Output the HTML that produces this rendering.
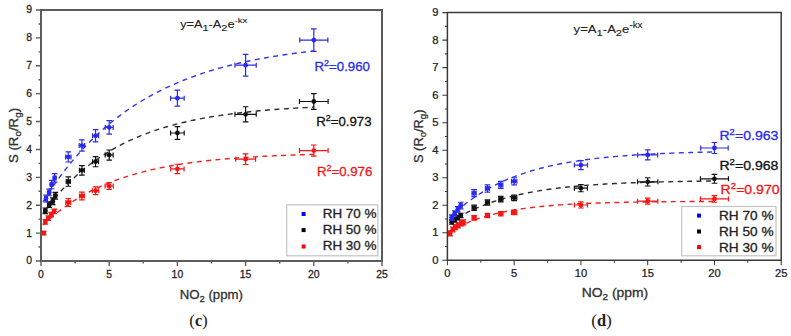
<!DOCTYPE html>
<html><head><meta charset="utf-8"><style>
html,body{margin:0;padding:0;background:#fff;}
#w{position:relative;width:791px;height:336px;overflow:hidden;background:#fff;}
svg{position:absolute;left:0;top:0;}
.tk{font-family:"Liberation Sans",sans-serif;font-size:10px;fill:#222;stroke:#222;stroke-width:0.25px;}
</style></head><body><div id="w">
<svg width="791" height="336" viewBox="0 0 791 336">
<polyline fill="none" stroke="#f52020" stroke-width="1.4" stroke-dasharray="5,4.4" points="43.05,225.02 45.32,222.88 47.60,220.80 49.87,218.78 52.15,216.82 54.42,214.93 56.70,213.08 58.97,211.29 61.25,209.56 63.52,207.87 65.80,206.23 68.07,204.65 70.35,203.11 72.62,201.61 74.90,200.16 77.17,198.75 79.45,197.38 81.73,196.06 84.00,194.77 86.28,193.52 88.55,192.30 90.83,191.13 93.10,189.98 95.38,188.88 97.65,187.80 99.93,186.75 102.20,185.74 104.48,184.76 106.75,183.80 109.03,182.87 111.30,181.97 113.58,181.10 115.85,180.25 118.13,179.43 120.40,178.63 122.68,177.86 124.95,177.11 127.23,176.38 129.51,175.67 131.78,174.98 134.06,174.31 136.33,173.67 138.61,173.04 140.88,172.43 143.16,171.83 145.43,171.26 147.71,170.70 149.98,170.16 152.26,169.64 154.53,169.13 156.81,168.63 159.08,168.15 161.36,167.68 163.63,167.23 165.91,166.79 168.18,166.37 170.46,165.95 172.73,165.55 175.01,165.16 177.29,164.78 179.56,164.42 181.84,164.06 184.11,163.72 186.39,163.38 188.66,163.05 190.94,162.74 193.21,162.43 195.49,162.13 197.76,161.84 200.04,161.56 202.31,161.29 204.59,161.03 206.86,160.77 209.14,160.52 211.41,160.28 213.69,160.05 215.96,159.82 218.24,159.60 220.52,159.38 222.79,159.18 225.07,158.97 227.34,158.78 229.62,158.59 231.89,158.40 234.17,158.22 236.44,158.05 238.72,157.88 240.99,157.72 243.27,157.56 245.54,157.41 247.82,157.26 250.09,157.11 252.37,156.97 254.64,156.83 256.92,156.70 259.19,156.57 261.47,156.45 263.74,156.32 266.02,156.21 268.30,156.09 270.57,155.98 272.85,155.87 275.12,155.77 277.40,155.67 279.67,155.57 281.95,155.47 284.22,155.38 286.50,155.29 288.77,155.20 291.05,155.12 293.32,155.04 295.60,154.96 297.87,154.88 300.15,154.80 302.42,154.73 304.70,154.66 306.97,154.59 309.25,154.52 311.52,154.46 313.80,154.40"/>
<polyline fill="none" stroke="#2e2e2e" stroke-width="1.4" stroke-dasharray="5,4.4" points="43.05,213.19 45.32,210.11 47.60,207.11 49.87,204.20 52.15,201.37 54.42,198.61 56.70,195.94 58.97,193.34 61.25,190.81 63.52,188.36 65.80,185.97 68.07,183.65 70.35,181.40 72.62,179.21 74.90,177.08 77.17,175.01 79.45,173.00 81.73,171.05 84.00,169.15 86.28,167.30 88.55,165.51 90.83,163.76 93.10,162.07 95.38,160.42 97.65,158.82 99.93,157.27 102.20,155.76 104.48,154.29 106.75,152.86 109.03,151.47 111.30,150.12 113.58,148.81 115.85,147.54 118.13,146.30 120.40,145.10 122.68,143.93 124.95,142.79 127.23,141.69 129.51,140.61 131.78,139.57 134.06,138.55 136.33,137.57 138.61,136.61 140.88,135.68 143.16,134.78 145.43,133.90 147.71,133.04 149.98,132.21 152.26,131.40 154.53,130.62 156.81,129.86 159.08,129.12 161.36,128.40 163.63,127.70 165.91,127.02 168.18,126.36 170.46,125.71 172.73,125.09 175.01,124.48 177.29,123.89 179.56,123.32 181.84,122.76 184.11,122.22 186.39,121.69 188.66,121.18 190.94,120.69 193.21,120.20 195.49,119.73 197.76,119.28 200.04,118.83 202.31,118.40 204.59,117.98 206.86,117.58 209.14,117.18 211.41,116.80 213.69,116.42 215.96,116.06 218.24,115.71 220.52,115.36 222.79,115.03 225.07,114.71 227.34,114.39 229.62,114.09 231.89,113.79 234.17,113.50 236.44,113.22 238.72,112.94 240.99,112.68 243.27,112.42 245.54,112.17 247.82,111.93 250.09,111.69 252.37,111.46 254.64,111.24 256.92,111.02 259.19,110.81 261.47,110.60 263.74,110.40 266.02,110.21 268.30,110.02 270.57,109.84 272.85,109.66 275.12,109.49 277.40,109.32 279.67,109.16 281.95,109.00 284.22,108.84 286.50,108.69 288.77,108.55 291.05,108.41 293.32,108.27 295.60,108.13 297.87,108.00 300.15,107.88 302.42,107.75 304.70,107.63 306.97,107.52 309.25,107.41 311.52,107.30 313.80,107.19"/>
<polyline fill="none" stroke="#3434ee" stroke-width="1.4" stroke-dasharray="5,4.4" points="43.05,201.67 45.32,198.07 47.60,194.56 49.87,191.12 52.15,187.75 54.42,184.47 56.70,181.25 58.97,178.11 61.25,175.03 63.52,172.03 65.80,169.09 68.07,166.21 70.35,163.41 72.62,160.66 74.90,157.97 77.17,155.35 79.45,152.78 81.73,150.27 84.00,147.81 86.28,145.41 88.55,143.07 90.83,140.77 93.10,138.53 95.38,136.33 97.65,134.19 99.93,132.09 102.20,130.04 104.48,128.04 106.75,126.07 109.03,124.16 111.30,122.28 113.58,120.45 115.85,118.66 118.13,116.91 120.40,115.19 122.68,113.52 124.95,111.88 127.23,110.28 129.51,108.71 131.78,107.18 134.06,105.69 136.33,104.22 138.61,102.79 140.88,101.39 143.16,100.02 145.43,98.69 147.71,97.38 149.98,96.10 152.26,94.85 154.53,93.63 156.81,92.43 159.08,91.26 161.36,90.12 163.63,89.00 165.91,87.91 168.18,86.84 170.46,85.80 172.73,84.77 175.01,83.78 177.29,82.80 179.56,81.84 181.84,80.91 184.11,80.00 186.39,79.11 188.66,78.23 190.94,77.38 193.21,76.55 195.49,75.73 197.76,74.93 200.04,74.15 202.31,73.39 204.59,72.65 206.86,71.92 209.14,71.20 211.41,70.51 213.69,69.83 215.96,69.16 218.24,68.51 220.52,67.87 222.79,67.25 225.07,66.64 227.34,66.04 229.62,65.46 231.89,64.89 234.17,64.34 236.44,63.79 238.72,63.26 240.99,62.74 243.27,62.23 245.54,61.73 247.82,61.25 250.09,60.77 252.37,60.31 254.64,59.85 256.92,59.41 259.19,58.97 261.47,58.55 263.74,58.13 266.02,57.73 268.30,57.33 270.57,56.94 272.85,56.56 275.12,56.19 277.40,55.83 279.67,55.47 281.95,55.12 284.22,54.78 286.50,54.45 288.77,54.13 291.05,53.81 293.32,53.50 295.60,53.20 297.87,52.90 300.15,52.61 302.42,52.33 304.70,52.05 306.97,51.78 309.25,51.51 311.52,51.26 313.80,51.00"/>
<path d="M42.64,233.11H44.82M43.73,231.44V234.78M42.64,230.61V235.61M44.82,230.61V235.61M40.93,231.44H46.53M40.93,234.78H46.53" stroke="#f51515" stroke-width="1.2" fill="none"/>
<circle cx="43.73" cy="233.11" r="2.4" fill="#f51515"/>
<path d="M44.27,221.96H46.46M45.36,219.72V224.19M44.27,219.46V224.46M46.46,219.46V224.46M42.56,219.72H48.16M42.56,224.19H48.16" stroke="#f51515" stroke-width="1.2" fill="none"/>
<circle cx="45.36" cy="221.96" r="2.4" fill="#f51515"/>
<path d="M47.14,218.05H49.32M48.23,215.82V220.28M47.14,215.55V220.55M49.32,215.55V220.55M45.43,215.82H51.03M45.43,220.28H51.03" stroke="#f51515" stroke-width="1.2" fill="none"/>
<circle cx="48.23" cy="218.05" r="2.4" fill="#f51515"/>
<path d="M50.14,214.70H52.32M51.23,212.47V216.94M50.14,212.20V217.20M52.32,212.20V217.20M48.43,212.47H54.03M48.43,216.94H54.03" stroke="#f51515" stroke-width="1.2" fill="none"/>
<circle cx="51.23" cy="214.70" r="2.4" fill="#f51515"/>
<path d="M53.14,211.36H55.32M54.23,209.13V213.59M53.14,208.86V213.86M55.32,208.86V213.86M51.43,209.13H57.03M51.43,213.59H57.03" stroke="#f51515" stroke-width="1.2" fill="none"/>
<circle cx="54.23" cy="211.36" r="2.4" fill="#f51515"/>
<path d="M65.82,202.43H70.74M68.28,198.53V206.34M65.82,199.93V204.93M70.74,199.93V204.93M65.48,198.53H71.08M65.48,206.34H71.08" stroke="#f51515" stroke-width="1.2" fill="none"/>
<circle cx="68.28" cy="202.43" r="2.4" fill="#f51515"/>
<path d="M79.46,196.02H84.38M81.92,192.11V199.92M79.46,193.52V198.52M84.38,193.52V198.52M79.12,192.11H84.72M79.12,199.92H84.72" stroke="#f51515" stroke-width="1.2" fill="none"/>
<circle cx="81.92" cy="196.02" r="2.4" fill="#f51515"/>
<path d="M92.29,190.72H98.83M95.56,186.82V194.62M92.29,188.22V193.22M98.83,188.22V193.22M92.76,186.82H98.36M92.76,194.62H98.36" stroke="#f51515" stroke-width="1.2" fill="none"/>
<circle cx="95.56" cy="190.72" r="2.4" fill="#f51515"/>
<path d="M105.11,185.98H113.29M109.20,182.63V189.33M105.11,183.48V188.48M113.29,183.48V188.48M106.40,182.63H112.00M106.40,189.33H112.00" stroke="#f51515" stroke-width="1.2" fill="none"/>
<circle cx="109.20" cy="185.98" r="2.4" fill="#f51515"/>
<path d="M170.72,168.97H184.08M177.40,164.23V173.71M170.72,166.47V171.47M184.08,166.47V171.47M174.60,164.23H180.20M174.60,173.71H180.20" stroke="#f51515" stroke-width="1.2" fill="none"/>
<circle cx="177.40" cy="168.97" r="2.4" fill="#f51515"/>
<path d="M235.64,159.21H255.56M245.60,153.91V164.50M235.64,156.71V161.71M255.56,156.71V161.71M242.80,153.91H248.40M242.80,164.50H248.40" stroke="#f51515" stroke-width="1.2" fill="none"/>
<circle cx="245.60" cy="159.21" r="2.4" fill="#f51515"/>
<path d="M299.48,150.56H328.12M313.80,144.98V156.14M299.48,148.06V153.06M328.12,148.06V153.06M311.00,144.98H316.60M311.00,156.14H316.60" stroke="#f51515" stroke-width="1.2" fill="none"/>
<circle cx="313.80" cy="150.56" r="2.4" fill="#f51515"/>
<path d="M44.00,210.80H46.73M45.36,208.01V213.59M44.00,208.30V213.30M46.73,208.30V213.30M42.56,208.01H48.16M42.56,213.59H48.16" stroke="#111111" stroke-width="1.2" fill="none"/>
<circle cx="45.36" cy="210.80" r="2.4" fill="#111111"/>
<path d="M47.82,204.66H50.55M49.18,201.88V207.45M47.82,202.16V207.16M50.55,202.16V207.16M46.38,201.88H51.98M46.38,207.45H51.98" stroke="#111111" stroke-width="1.2" fill="none"/>
<circle cx="49.18" cy="204.66" r="2.4" fill="#111111"/>
<path d="M51.37,201.32H54.09M52.73,197.97V204.66M51.37,198.82V203.82M54.09,198.82V203.82M49.93,197.97H55.53M49.93,204.66H55.53" stroke="#111111" stroke-width="1.2" fill="none"/>
<circle cx="52.73" cy="201.32" r="2.4" fill="#111111"/>
<path d="M53.96,195.74H56.69M55.32,192.39V199.09M53.96,193.24V198.24M56.69,193.24V198.24M52.52,192.39H58.12M52.52,199.09H58.12" stroke="#111111" stroke-width="1.2" fill="none"/>
<circle cx="55.32" cy="195.74" r="2.4" fill="#111111"/>
<path d="M66.23,181.52H70.33M68.28,176.78V186.26M66.23,179.02V184.02M70.33,179.02V184.02M65.48,176.78H71.08M65.48,186.26H71.08" stroke="#111111" stroke-width="1.2" fill="none"/>
<circle cx="68.28" cy="181.52" r="2.4" fill="#111111"/>
<path d="M79.46,170.36H84.38M81.92,165.62V175.10M79.46,167.86V172.86M84.38,167.86V172.86M79.12,165.62H84.72M79.12,175.10H84.72" stroke="#111111" stroke-width="1.2" fill="none"/>
<circle cx="81.92" cy="170.36" r="2.4" fill="#111111"/>
<path d="M92.56,161.72H98.56M95.56,156.70V166.74M92.56,159.22V164.22M98.56,159.22V164.22M92.76,156.70H98.36M92.76,166.74H98.36" stroke="#111111" stroke-width="1.2" fill="none"/>
<circle cx="95.56" cy="161.72" r="2.4" fill="#111111"/>
<path d="M105.24,155.02H113.16M109.20,150.00V160.04M105.24,152.52V157.52M113.16,152.52V157.52M106.40,150.00H112.00M106.40,160.04H112.00" stroke="#111111" stroke-width="1.2" fill="none"/>
<circle cx="109.20" cy="155.02" r="2.4" fill="#111111"/>
<path d="M170.58,132.99H184.22M177.40,126.58V139.40M170.58,130.49V135.49M184.22,130.49V135.49M174.60,126.58H180.20M174.60,139.40H180.20" stroke="#111111" stroke-width="1.2" fill="none"/>
<circle cx="177.40" cy="132.99" r="2.4" fill="#111111"/>
<path d="M234.96,114.30H256.24M245.60,106.77V121.83M234.96,111.80V116.80M256.24,111.80V116.80M242.80,106.77H248.40M242.80,121.83H248.40" stroke="#111111" stroke-width="1.2" fill="none"/>
<circle cx="245.60" cy="114.30" r="2.4" fill="#111111"/>
<path d="M299.48,101.48H328.12M313.80,93.67V109.28M299.48,98.98V103.98M328.12,98.98V103.98M311.00,93.67H316.60M311.00,109.28H316.60" stroke="#111111" stroke-width="1.2" fill="none"/>
<circle cx="313.80" cy="101.48" r="2.4" fill="#111111"/>
<path d="M44.68,198.53H47.41M46.05,195.18V201.88M44.68,196.03V201.03M47.41,196.03V201.03M43.25,195.18H48.85M43.25,201.88H48.85" stroke="#2a2aee" stroke-width="1.2" fill="none"/>
<circle cx="46.05" cy="198.53" r="2.4" fill="#2a2aee"/>
<path d="M47.82,192.39H50.55M49.18,189.05V195.74M47.82,189.89V194.89M50.55,189.89V194.89M46.38,189.05H51.98M46.38,195.74H51.98" stroke="#2a2aee" stroke-width="1.2" fill="none"/>
<circle cx="49.18" cy="192.39" r="2.4" fill="#2a2aee"/>
<path d="M50.28,184.58H53.00M51.64,180.40V188.77M50.28,182.08V187.08M53.00,182.08V187.08M48.84,180.40H54.44M48.84,188.77H54.44" stroke="#2a2aee" stroke-width="1.2" fill="none"/>
<circle cx="51.64" cy="184.58" r="2.4" fill="#2a2aee"/>
<path d="M53.28,177.89H56.00M54.64,173.71V182.07M53.28,175.39V180.39M56.00,175.39V180.39M51.84,173.71H57.44M51.84,182.07H57.44" stroke="#2a2aee" stroke-width="1.2" fill="none"/>
<circle cx="54.64" cy="177.89" r="2.4" fill="#2a2aee"/>
<path d="M65.55,156.97H71.01M68.28,151.95V161.99M65.55,154.47V159.47M71.01,154.47V159.47M65.48,151.95H71.08M65.48,161.99H71.08" stroke="#2a2aee" stroke-width="1.2" fill="none"/>
<circle cx="68.28" cy="156.97" r="2.4" fill="#2a2aee"/>
<path d="M79.19,145.54H84.65M81.92,139.96V151.12M79.19,143.04V148.04M84.65,143.04V148.04M79.12,139.96H84.72M79.12,151.12H84.72" stroke="#2a2aee" stroke-width="1.2" fill="none"/>
<circle cx="81.92" cy="145.54" r="2.4" fill="#2a2aee"/>
<path d="M92.56,135.78H98.56M95.56,129.64V141.91M92.56,133.28V138.28M98.56,133.28V138.28M92.76,129.64H98.36M92.76,141.91H98.36" stroke="#2a2aee" stroke-width="1.2" fill="none"/>
<circle cx="95.56" cy="135.78" r="2.4" fill="#2a2aee"/>
<path d="M105.24,127.41H113.16M109.20,120.72V134.11M105.24,124.91V129.91M113.16,124.91V129.91M106.40,120.72H112.00M106.40,134.11H112.00" stroke="#2a2aee" stroke-width="1.2" fill="none"/>
<circle cx="109.20" cy="127.41" r="2.4" fill="#2a2aee"/>
<path d="M170.58,98.13H184.22M177.40,90.04V106.22M170.58,95.63V100.63M184.22,95.63V100.63M174.60,90.04H180.20M174.60,106.22H180.20" stroke="#2a2aee" stroke-width="1.2" fill="none"/>
<circle cx="177.40" cy="98.13" r="2.4" fill="#2a2aee"/>
<path d="M234.96,65.22H256.24M245.60,54.34V76.10M234.96,62.72V67.72M256.24,62.72V67.72M242.80,54.34H248.40M242.80,76.10H248.40" stroke="#2a2aee" stroke-width="1.2" fill="none"/>
<circle cx="245.60" cy="65.22" r="2.4" fill="#2a2aee"/>
<path d="M299.75,40.12H327.85M313.80,28.96V51.28M299.75,37.62V42.62M327.85,37.62V42.62M311.00,28.96H316.60M311.00,51.28H316.60" stroke="#2a2aee" stroke-width="1.2" fill="none"/>
<circle cx="313.80" cy="40.12" r="2.4" fill="#2a2aee"/>
<path d="M41.0,10.0H382.0V261.0H41.0Z" fill="none" stroke="#5c5c5c" stroke-width="2.0"/>
<path d="M36.00,261.00H41.00M38.50,247.06H41.00M36.00,233.11H41.00M38.50,219.17H41.00M36.00,205.22H41.00M38.50,191.28H41.00M36.00,177.33H41.00M38.50,163.39H41.00M36.00,149.44H41.00M38.50,135.50H41.00M36.00,121.56H41.00M38.50,107.61H41.00M36.00,93.67H41.00M38.50,79.72H41.00M36.00,65.78H41.00M38.50,51.83H41.00M36.00,37.89H41.00M38.50,23.94H41.00M36.00,10.00H41.00M41.00,261.00V266.00M75.10,261.00V263.50M109.20,261.00V266.00M143.30,261.00V263.50M177.40,261.00V266.00M211.50,261.00V263.50M245.60,261.00V266.00M279.70,261.00V263.50M313.80,261.00V266.00M347.90,261.00V263.50M382.00,261.00V266.00" stroke="#5c5c5c" stroke-width="1.40" fill="none"/>
<polyline fill="none" stroke="#f52020" stroke-width="1.4" stroke-dasharray="5,4.4" points="449.40,231.54 451.63,230.28 453.86,229.07 456.08,227.91 458.31,226.80 460.54,225.73 462.77,224.71 464.99,223.73 467.22,222.79 469.45,221.90 471.67,221.03 473.90,220.21 476.13,219.42 478.36,218.66 480.58,217.93 482.81,217.24 485.04,216.57 487.27,215.93 489.49,215.32 491.72,214.73 493.95,214.17 496.17,213.63 498.40,213.11 500.63,212.62 502.86,212.14 505.08,211.69 507.31,211.25 509.54,210.84 511.76,210.44 513.99,210.05 516.22,209.69 518.45,209.33 520.67,209.00 522.90,208.67 525.13,208.36 527.35,208.07 529.58,207.78 531.81,207.51 534.04,207.25 536.26,207.00 538.49,206.76 540.72,206.53 542.95,206.31 545.17,206.10 547.40,205.89 549.63,205.70 551.85,205.51 554.08,205.34 556.31,205.17 558.54,205.00 560.76,204.85 562.99,204.70 565.22,204.55 567.44,204.41 569.67,204.28 571.90,204.16 574.13,204.03 576.35,203.92 578.58,203.81 580.81,203.70 583.04,203.60 585.26,203.50 587.49,203.40 589.72,203.31 591.94,203.23 594.17,203.15 596.40,203.07 598.63,202.99 600.85,202.92 603.08,202.85 605.31,202.78 607.53,202.72 609.76,202.66 611.99,202.60 614.22,202.54 616.44,202.49 618.67,202.43 620.90,202.39 623.12,202.34 625.35,202.29 627.58,202.25 629.81,202.21 632.03,202.17 634.26,202.13 636.49,202.09 638.72,202.06 640.94,202.02 643.17,201.99 645.40,201.96 647.62,201.93 649.85,201.90 652.08,201.87 654.31,201.85 656.53,201.82 658.76,201.80 660.99,201.77 663.21,201.75 665.44,201.73 667.67,201.71 669.90,201.69 672.12,201.67 674.35,201.66 676.58,201.64 678.80,201.62 681.03,201.61 683.26,201.59 685.49,201.58 687.71,201.56 689.94,201.55 692.17,201.54 694.40,201.52 696.62,201.51 698.85,201.50 701.08,201.49 703.30,201.48 705.53,201.47 707.76,201.46 709.99,201.45 712.21,201.44 714.44,201.44"/>
<polyline fill="none" stroke="#2e2e2e" stroke-width="1.4" stroke-dasharray="5,4.4" points="449.40,222.79 451.63,221.34 453.86,219.94 456.08,218.59 458.31,217.28 460.54,216.02 462.77,214.80 464.99,213.63 467.22,212.49 469.45,211.39 471.67,210.33 473.90,209.31 476.13,208.32 478.36,207.36 480.58,206.44 482.81,205.55 485.04,204.69 487.27,203.86 489.49,203.05 491.72,202.28 493.95,201.53 496.17,200.80 498.40,200.10 500.63,199.43 502.86,198.78 505.08,198.15 507.31,197.54 509.54,196.95 511.76,196.38 513.99,195.83 516.22,195.31 518.45,194.79 520.67,194.30 522.90,193.82 525.13,193.36 527.35,192.92 529.58,192.49 531.81,192.07 534.04,191.67 536.26,191.28 538.49,190.91 540.72,190.55 542.95,190.20 545.17,189.86 547.40,189.53 549.63,189.22 551.85,188.92 554.08,188.62 556.31,188.34 558.54,188.06 560.76,187.80 562.99,187.54 565.22,187.30 567.44,187.06 569.67,186.83 571.90,186.61 574.13,186.39 576.35,186.19 578.58,185.98 580.81,185.79 583.04,185.60 585.26,185.42 587.49,185.25 589.72,185.08 591.94,184.92 594.17,184.76 596.40,184.61 598.63,184.46 600.85,184.32 603.08,184.18 605.31,184.05 607.53,183.92 609.76,183.80 611.99,183.68 614.22,183.57 616.44,183.46 618.67,183.35 620.90,183.25 623.12,183.15 625.35,183.05 627.58,182.96 629.81,182.87 632.03,182.78 634.26,182.69 636.49,182.61 638.72,182.53 640.94,182.46 643.17,182.39 645.40,182.31 647.62,182.25 649.85,182.18 652.08,182.12 654.31,182.05 656.53,182.00 658.76,181.94 660.99,181.88 663.21,181.83 665.44,181.78 667.67,181.73 669.90,181.68 672.12,181.63 674.35,181.59 676.58,181.54 678.80,181.50 681.03,181.46 683.26,181.42 685.49,181.38 687.71,181.35 689.94,181.31 692.17,181.28 694.40,181.25 696.62,181.21 698.85,181.18 701.08,181.15 703.30,181.12 705.53,181.10 707.76,181.07 709.99,181.04 712.21,181.02 714.44,180.99"/>
<polyline fill="none" stroke="#3434ee" stroke-width="1.4" stroke-dasharray="5,4.4" points="449.40,218.02 451.63,215.86 453.86,213.76 456.08,211.74 458.31,209.78 460.54,207.88 462.77,206.04 464.99,204.26 467.22,202.54 469.45,200.88 471.67,199.26 473.90,197.70 476.13,196.19 478.36,194.73 480.58,193.31 482.81,191.94 485.04,190.62 487.27,189.33 489.49,188.09 491.72,186.89 493.95,185.72 496.17,184.60 498.40,183.50 500.63,182.45 502.86,181.43 505.08,180.44 507.31,179.48 509.54,178.55 511.76,177.65 513.99,176.78 516.22,175.94 518.45,175.13 520.67,174.34 522.90,173.58 525.13,172.84 527.35,172.13 529.58,171.43 531.81,170.77 534.04,170.12 536.26,169.49 538.49,168.88 540.72,168.29 542.95,167.73 545.17,167.18 547.40,166.64 549.63,166.13 551.85,165.63 554.08,165.14 556.31,164.68 558.54,164.22 560.76,163.78 562.99,163.36 565.22,162.95 567.44,162.55 569.67,162.17 571.90,161.79 574.13,161.43 576.35,161.08 578.58,160.75 580.81,160.42 583.04,160.10 585.26,159.80 587.49,159.50 589.72,159.21 591.94,158.93 594.17,158.66 596.40,158.40 598.63,158.15 600.85,157.91 603.08,157.67 605.31,157.44 607.53,157.22 609.76,157.01 611.99,156.80 614.22,156.60 616.44,156.41 618.67,156.22 620.90,156.04 623.12,155.86 625.35,155.69 627.58,155.52 629.81,155.36 632.03,155.21 634.26,155.06 636.49,154.91 638.72,154.77 640.94,154.64 643.17,154.51 645.40,154.38 647.62,154.26 649.85,154.14 652.08,154.02 654.31,153.91 656.53,153.80 658.76,153.70 660.99,153.60 663.21,153.50 665.44,153.40 667.67,153.31 669.90,153.22 672.12,153.14 674.35,153.05 676.58,152.97 678.80,152.89 681.03,152.82 683.26,152.75 685.49,152.68 687.71,152.61 689.94,152.54 692.17,152.48 694.40,152.41 696.62,152.35 698.85,152.30 701.08,152.24 703.30,152.18 705.53,152.13 707.76,152.08 709.99,152.03 712.21,151.98 714.44,151.94"/>
<path d="M448.74,233.33H451.41M450.07,230.85V235.81M448.74,230.83V235.83M451.41,230.83V235.83M447.27,230.85H452.87M447.27,235.81H452.87" stroke="#f51515" stroke-width="1.2" fill="none"/>
<circle cx="450.07" cy="233.33" r="2.4" fill="#f51515"/>
<path d="M451.41,229.48H454.08M452.74,227.00V231.95M451.41,226.98V231.98M454.08,226.98V231.98M449.94,227.00H455.54M449.94,231.95H455.54" stroke="#f51515" stroke-width="1.2" fill="none"/>
<circle cx="452.74" cy="229.48" r="2.4" fill="#f51515"/>
<path d="M454.08,227.27H456.75M455.41,224.80V229.75M454.08,224.77V229.77M456.75,224.77V229.77M452.61,224.80H458.21M452.61,229.75H458.21" stroke="#f51515" stroke-width="1.2" fill="none"/>
<circle cx="455.41" cy="227.27" r="2.4" fill="#f51515"/>
<path d="M456.75,225.35H459.42M458.08,222.87V227.82M456.75,222.85V227.85M459.42,222.85V227.85M455.28,222.87H460.88M455.28,227.82H460.88" stroke="#f51515" stroke-width="1.2" fill="none"/>
<circle cx="458.08" cy="225.35" r="2.4" fill="#f51515"/>
<path d="M459.95,223.42H463.16M461.55,220.94V225.90M459.95,220.92V225.92M463.16,220.92V225.92M458.75,220.94H464.35M458.75,225.90H464.35" stroke="#f51515" stroke-width="1.2" fill="none"/>
<circle cx="461.55" cy="223.42" r="2.4" fill="#f51515"/>
<path d="M462.09,222.32H464.76M463.42,219.84V224.80M462.09,219.82V224.82M464.76,219.82V224.82M460.62,219.84H466.22M460.62,224.80H466.22" stroke="#f51515" stroke-width="1.2" fill="none"/>
<circle cx="463.42" cy="222.32" r="2.4" fill="#f51515"/>
<path d="M472.10,217.92H476.11M474.10,215.71V220.12M472.10,215.42V220.42M476.11,215.42V220.42M471.30,215.71H476.90M471.30,220.12H476.90" stroke="#f51515" stroke-width="1.2" fill="none"/>
<circle cx="474.10" cy="217.92" r="2.4" fill="#f51515"/>
<path d="M485.45,215.44H489.46M487.46,213.24V217.64M485.45,212.94V217.94M489.46,212.94V217.94M484.66,213.24H490.26M484.66,217.64H490.26" stroke="#f51515" stroke-width="1.2" fill="none"/>
<circle cx="487.46" cy="215.44" r="2.4" fill="#f51515"/>
<path d="M498.81,213.79H502.81M500.81,211.59V215.99M498.81,211.29V216.29M502.81,211.29V216.29M498.01,211.59H503.61M498.01,215.99H503.61" stroke="#f51515" stroke-width="1.2" fill="none"/>
<circle cx="500.81" cy="213.79" r="2.4" fill="#f51515"/>
<path d="M511.49,212.41H516.83M514.16,210.21V214.61M511.49,209.91V214.91M516.83,209.91V214.91M511.36,210.21H516.96M511.36,214.61H516.96" stroke="#f51515" stroke-width="1.2" fill="none"/>
<circle cx="514.16" cy="212.41" r="2.4" fill="#f51515"/>
<path d="M574.38,204.98H587.46M580.92,201.95V208.01M574.38,202.48V207.48M587.46,202.48V207.48M578.12,201.95H583.72M578.12,208.01H583.72" stroke="#f51515" stroke-width="1.2" fill="none"/>
<circle cx="580.92" cy="204.98" r="2.4" fill="#f51515"/>
<path d="M637.53,201.13H657.83M647.68,198.10V204.15M637.53,198.63V203.63M657.83,198.63V203.63M644.88,198.10H650.48M644.88,204.15H650.48" stroke="#f51515" stroke-width="1.2" fill="none"/>
<circle cx="647.68" cy="201.13" r="2.4" fill="#f51515"/>
<path d="M700.42,198.93H728.46M714.44,195.62V202.23M700.42,196.43V201.43M728.46,196.43V201.43M711.64,195.62H717.24M711.64,202.23H717.24" stroke="#f51515" stroke-width="1.2" fill="none"/>
<circle cx="714.44" cy="198.93" r="2.4" fill="#f51515"/>
<path d="M450.47,222.04H453.14M451.81,219.84V224.25M450.47,219.54V224.54M453.14,219.54V224.54M449.01,219.84H454.61M449.01,224.25H454.61" stroke="#111111" stroke-width="1.2" fill="none"/>
<circle cx="451.81" cy="222.04" r="2.4" fill="#111111"/>
<path d="M453.41,219.84H456.08M454.74,217.64V222.04M453.41,217.34V222.34M456.08,217.34V222.34M451.94,217.64H457.54M451.94,222.04H457.54" stroke="#111111" stroke-width="1.2" fill="none"/>
<circle cx="454.74" cy="219.84" r="2.4" fill="#111111"/>
<path d="M456.48,217.64H459.15M457.81,215.44V219.84M456.48,215.14V220.14M459.15,215.14V220.14M455.01,215.44H460.61M455.01,219.84H460.61" stroke="#111111" stroke-width="1.2" fill="none"/>
<circle cx="457.81" cy="217.64" r="2.4" fill="#111111"/>
<path d="M459.42,215.44H462.09M460.75,213.24V217.64M459.42,212.94V217.94M462.09,212.94V217.94M457.95,213.24H463.55M457.95,217.64H463.55" stroke="#111111" stroke-width="1.2" fill="none"/>
<circle cx="460.75" cy="215.44" r="2.4" fill="#111111"/>
<path d="M472.10,207.73H476.11M474.10,204.98V210.48M472.10,205.23V210.23M476.11,205.23V210.23M471.30,204.98H476.90M471.30,210.48H476.90" stroke="#111111" stroke-width="1.2" fill="none"/>
<circle cx="474.10" cy="207.73" r="2.4" fill="#111111"/>
<path d="M485.45,202.50H489.46M487.46,199.75V205.26M485.45,200.00V205.00M489.46,200.00V205.00M484.66,199.75H490.26M484.66,205.26H490.26" stroke="#111111" stroke-width="1.2" fill="none"/>
<circle cx="487.46" cy="202.50" r="2.4" fill="#111111"/>
<path d="M498.81,199.20H502.81M500.81,196.45V201.95M498.81,196.70V201.70M502.81,196.70V201.70M498.01,196.45H503.61M498.01,201.95H503.61" stroke="#111111" stroke-width="1.2" fill="none"/>
<circle cx="500.81" cy="199.20" r="2.4" fill="#111111"/>
<path d="M511.49,197.82H516.83M514.16,195.07V200.58M511.49,195.32V200.32M516.83,195.32V200.32M511.36,195.07H516.96M511.36,200.58H516.96" stroke="#111111" stroke-width="1.2" fill="none"/>
<circle cx="514.16" cy="197.82" r="2.4" fill="#111111"/>
<path d="M574.38,188.19H587.46M580.92,184.61V191.77M574.38,185.69V190.69M587.46,185.69V190.69M578.12,184.61H583.72M578.12,191.77H583.72" stroke="#111111" stroke-width="1.2" fill="none"/>
<circle cx="580.92" cy="188.19" r="2.4" fill="#111111"/>
<path d="M637.53,181.86H657.83M647.68,177.73V185.99M637.53,179.36V184.36M657.83,179.36V184.36M644.88,177.73H650.48M644.88,185.99H650.48" stroke="#111111" stroke-width="1.2" fill="none"/>
<circle cx="647.68" cy="181.86" r="2.4" fill="#111111"/>
<path d="M700.42,178.83H728.46M714.44,174.43V183.24M700.42,176.33V181.33M728.46,176.33V181.33M711.64,174.43H717.24M711.64,183.24H717.24" stroke="#111111" stroke-width="1.2" fill="none"/>
<circle cx="714.44" cy="178.83" r="2.4" fill="#111111"/>
<path d="M450.47,217.64H453.14M451.81,214.89V220.39M450.47,215.14V220.14M453.14,215.14V220.14M449.01,214.89H454.61M449.01,220.39H454.61" stroke="#2a2aee" stroke-width="1.2" fill="none"/>
<circle cx="451.81" cy="217.64" r="2.4" fill="#2a2aee"/>
<path d="M453.41,213.51H456.08M454.74,210.76V216.26M453.41,211.01V216.01M456.08,211.01V216.01M451.94,210.76H457.54M451.94,216.26H457.54" stroke="#2a2aee" stroke-width="1.2" fill="none"/>
<circle cx="454.74" cy="213.51" r="2.4" fill="#2a2aee"/>
<path d="M456.48,209.38H459.15M457.81,206.63V212.14M456.48,206.88V211.88M459.15,206.88V211.88M455.01,206.63H460.61M455.01,212.14H460.61" stroke="#2a2aee" stroke-width="1.2" fill="none"/>
<circle cx="457.81" cy="209.38" r="2.4" fill="#2a2aee"/>
<path d="M459.42,205.53H462.09M460.75,202.23V208.83M459.42,203.03V208.03M462.09,203.03V208.03M457.95,202.23H463.55M457.95,208.83H463.55" stroke="#2a2aee" stroke-width="1.2" fill="none"/>
<circle cx="460.75" cy="205.53" r="2.4" fill="#2a2aee"/>
<path d="M472.10,193.15H476.11M474.10,189.57V196.72M472.10,190.65V195.65M476.11,190.65V195.65M471.30,189.57H476.90M471.30,196.72H476.90" stroke="#2a2aee" stroke-width="1.2" fill="none"/>
<circle cx="474.10" cy="193.15" r="2.4" fill="#2a2aee"/>
<path d="M485.45,188.47H489.46M487.46,184.89V192.04M485.45,185.97V190.97M489.46,185.97V190.97M484.66,184.89H490.26M484.66,192.04H490.26" stroke="#2a2aee" stroke-width="1.2" fill="none"/>
<circle cx="487.46" cy="188.47" r="2.4" fill="#2a2aee"/>
<path d="M498.81,184.89H502.81M500.81,181.31V188.47M498.81,182.39V187.39M502.81,182.39V187.39M498.01,181.31H503.61M498.01,188.47H503.61" stroke="#2a2aee" stroke-width="1.2" fill="none"/>
<circle cx="500.81" cy="184.89" r="2.4" fill="#2a2aee"/>
<path d="M511.49,181.31H516.83M514.16,177.73V184.89M511.49,178.81V183.81M516.83,178.81V183.81M511.36,177.73H516.96M511.36,184.89H516.96" stroke="#2a2aee" stroke-width="1.2" fill="none"/>
<circle cx="514.16" cy="181.31" r="2.4" fill="#2a2aee"/>
<path d="M574.38,165.07H587.46M580.92,160.53V169.61M574.38,162.57V167.57M587.46,162.57V167.57M578.12,160.53H583.72M578.12,169.61H583.72" stroke="#2a2aee" stroke-width="1.2" fill="none"/>
<circle cx="580.92" cy="165.07" r="2.4" fill="#2a2aee"/>
<path d="M637.67,154.89H657.69M647.68,149.94V159.84M637.67,152.39V157.39M657.69,152.39V157.39M644.88,149.94H650.48M644.88,159.84H650.48" stroke="#2a2aee" stroke-width="1.2" fill="none"/>
<circle cx="647.68" cy="154.89" r="2.4" fill="#2a2aee"/>
<path d="M700.69,148.01H728.19M714.44,142.50V153.51M700.69,145.51V150.51M728.19,145.51V150.51M711.64,142.50H717.24M711.64,153.51H717.24" stroke="#2a2aee" stroke-width="1.2" fill="none"/>
<circle cx="714.44" cy="148.01" r="2.4" fill="#2a2aee"/>
<path d="M447.4,12.6H781.2V260.3H447.4Z" fill="none" stroke="#3a3a3a" stroke-width="1.5"/>
<path d="M442.40,260.30H447.40M444.90,246.54H447.40M442.40,232.78H447.40M444.90,219.02H447.40M442.40,205.26H447.40M444.90,191.49H447.40M442.40,177.73H447.40M444.90,163.97H447.40M442.40,150.21H447.40M444.90,136.45H447.40M442.40,122.69H447.40M444.90,108.93H447.40M442.40,95.17H447.40M444.90,81.41H447.40M442.40,67.64H447.40M444.90,53.88H447.40M442.40,40.12H447.40M444.90,26.36H447.40M442.40,12.60H447.40M447.40,260.30V265.30M480.78,260.30V262.80M514.16,260.30V265.30M547.54,260.30V262.80M580.92,260.30V265.30M614.30,260.30V262.80M647.68,260.30V265.30M681.06,260.30V262.80M714.44,260.30V265.30M747.82,260.30V262.80M781.20,260.30V265.30" stroke="#3a3a3a" stroke-width="1.05" fill="none"/>
<text transform="translate(32.00,264.40) scale(1.04,1)" text-anchor="end" class="tk">0</text>
<text transform="translate(32.00,236.51) scale(1.04,1)" text-anchor="end" class="tk">1</text>
<text transform="translate(32.00,208.62) scale(1.04,1)" text-anchor="end" class="tk">2</text>
<text transform="translate(32.00,180.73) scale(1.04,1)" text-anchor="end" class="tk">3</text>
<text transform="translate(32.00,152.84) scale(1.04,1)" text-anchor="end" class="tk">4</text>
<text transform="translate(32.00,124.96) scale(1.04,1)" text-anchor="end" class="tk">5</text>
<text transform="translate(32.00,97.07) scale(1.04,1)" text-anchor="end" class="tk">6</text>
<text transform="translate(32.00,69.18) scale(1.04,1)" text-anchor="end" class="tk">7</text>
<text transform="translate(32.00,41.29) scale(1.04,1)" text-anchor="end" class="tk">8</text>
<text transform="translate(32.00,13.40) scale(1.04,1)" text-anchor="end" class="tk">9</text>
<text transform="translate(41.00,278.20) scale(1.04,1)" text-anchor="middle" class="tk">0</text>
<text transform="translate(109.20,278.20) scale(1.04,1)" text-anchor="middle" class="tk">5</text>
<text transform="translate(177.40,278.20) scale(1.04,1)" text-anchor="middle" class="tk">10</text>
<text transform="translate(245.60,278.20) scale(1.04,1)" text-anchor="middle" class="tk">15</text>
<text transform="translate(313.80,278.20) scale(1.04,1)" text-anchor="middle" class="tk">20</text>
<text transform="translate(382.00,278.20) scale(1.04,1)" text-anchor="middle" class="tk">25</text>
<text transform="translate(438.40,263.70) scale(1.12,1)" text-anchor="end" class="tk">0</text>
<text transform="translate(438.40,236.18) scale(1.12,1)" text-anchor="end" class="tk">1</text>
<text transform="translate(438.40,208.66) scale(1.12,1)" text-anchor="end" class="tk">2</text>
<text transform="translate(438.40,181.13) scale(1.12,1)" text-anchor="end" class="tk">3</text>
<text transform="translate(438.40,153.61) scale(1.12,1)" text-anchor="end" class="tk">4</text>
<text transform="translate(438.40,126.09) scale(1.12,1)" text-anchor="end" class="tk">5</text>
<text transform="translate(438.40,98.57) scale(1.12,1)" text-anchor="end" class="tk">6</text>
<text transform="translate(438.40,71.04) scale(1.12,1)" text-anchor="end" class="tk">7</text>
<text transform="translate(438.40,43.52) scale(1.12,1)" text-anchor="end" class="tk">8</text>
<text transform="translate(438.40,16.00) scale(1.12,1)" text-anchor="end" class="tk">9</text>
<text transform="translate(447.40,276.90) scale(1.12,1)" text-anchor="middle" class="tk">0</text>
<text transform="translate(514.16,276.90) scale(1.12,1)" text-anchor="middle" class="tk">5</text>
<text transform="translate(580.92,276.90) scale(1.12,1)" text-anchor="middle" class="tk">10</text>
<text transform="translate(647.68,276.90) scale(1.12,1)" text-anchor="middle" class="tk">15</text>
<text transform="translate(714.44,276.90) scale(1.12,1)" text-anchor="middle" class="tk">20</text>
<text transform="translate(781.20,276.90) scale(1.12,1)" text-anchor="middle" class="tk">25</text>
<g transform="translate(17.7,163.0) rotate(-90) scale(1.1,1)"><text x="0" y="0" font-family="Liberation Sans" font-weight="normal" font-size="12" fill="#333" stroke="#333" stroke-width="0.3">S (R<tspan font-size="9.0" dy="3.4">o</tspan><tspan dy="-3.4">/R</tspan><tspan font-size="9.0" dy="3.4">g</tspan><tspan dy="-3.4">)</tspan></text></g>
<g transform="translate(423.0,163.0) rotate(-90) scale(1.07,1)"><text x="0" y="0" font-family="Liberation Sans" font-weight="normal" font-size="12" fill="#333" stroke="#333" stroke-width="0.3">S (R<tspan font-size="9.0" dy="3.4">o</tspan><tspan dy="-3.4">/R</tspan><tspan font-size="9.0" dy="3.4">g</tspan><tspan dy="-3.4">)</tspan></text></g>
<g transform="translate(179.7,298.7) scale(1.1,1)"><text x="0" y="0" font-family="Liberation Sans" font-weight="normal" font-size="12" fill="#333" stroke="#333" stroke-width="0.3">NO<tspan font-size="8.64" dy="3">2</tspan><tspan dy="-3"> (ppm)</tspan></text></g>
<g transform="translate(581.7,296.7) scale(1.158,1)"><text x="0" y="0" font-family="Liberation Sans" font-weight="normal" font-size="12" fill="#333" stroke="#333" stroke-width="0.3">NO<tspan font-size="8.64" dy="3">2</tspan><tspan dy="-3"> (ppm)</tspan></text></g>
<g transform="translate(189.3,326.0) scale(1.0,1)"><text x="0" y="0" font-family="Liberation Serif" font-weight="bold" font-size="16" fill="#222" stroke="#222" stroke-width="0"><tspan font-weight="normal" font-size="17">(</tspan>c<tspan font-weight="normal" font-size="17">)</tspan></text></g>
<g transform="translate(591.2,325.8) scale(1.0,1)"><text x="0" y="0" font-family="Liberation Serif" font-weight="bold" font-size="16.4" fill="#222" stroke="#222" stroke-width="0"><tspan font-weight="normal" font-size="17.4">(</tspan>d<tspan font-weight="normal" font-size="17.4">)</tspan></text></g>
<g transform="translate(180.2,27.6) scale(1.2,1)"><text x="0" y="0" font-family="Liberation Sans" font-weight="normal" font-size="10.6" fill="#222" stroke="#222" stroke-width="0.12">y=A<tspan font-size="9.2" dy="3.6">1</tspan><tspan dy="-3.6">-A</tspan><tspan font-size="9.2" dy="3.6">2</tspan><tspan dy="-3.6">e</tspan><tspan font-size="8" dy="-4.6">-kx</tspan></text></g>
<g transform="translate(573.6,32.7) scale(1.17,1)"><text x="0" y="0" font-family="Liberation Sans" font-weight="normal" font-size="11.2" fill="#222" stroke="#222" stroke-width="0.12">y=A<tspan font-size="9.6" dy="3.6">1</tspan><tspan dy="-3.6">-A</tspan><tspan font-size="9.6" dy="3.6">2</tspan><tspan dy="-3.6">e</tspan><tspan font-size="8.4" dy="-4.8">-kx</tspan></text></g>
<g transform="translate(314.5,70.5) scale(1.05,1)"><text x="0" y="0" font-family="Liberation Sans" font-weight="normal" font-size="12.6" fill="#2a2aee" stroke="#2a2aee" stroke-width="0.3">R<tspan font-size="8.568" dy="-4.6">2</tspan><tspan dy="4.6">=0.960</tspan></text></g>
<g transform="translate(316.2,126) scale(1.05,1)"><text x="0" y="0" font-family="Liberation Sans" font-weight="normal" font-size="12.6" fill="#111111" stroke="#111111" stroke-width="0.3">R<tspan font-size="8.568" dy="-4.6">2</tspan><tspan dy="4.6">=0.973</tspan></text></g>
<g transform="translate(316.9,176) scale(1.05,1)"><text x="0" y="0" font-family="Liberation Sans" font-weight="normal" font-size="12.6" fill="#f51515" stroke="#f51515" stroke-width="0.3">R<tspan font-size="8.568" dy="-4.6">2</tspan><tspan dy="4.6">=0.976</tspan></text></g>
<g transform="translate(719.4,139.8) scale(1.12,1)"><text x="0" y="0" font-family="Liberation Sans" font-weight="normal" font-size="12.6" fill="#2a2aee" stroke="#2a2aee" stroke-width="0.3">R<tspan font-size="8.568" dy="-4.6">2</tspan><tspan dy="4.6">=0.963</tspan></text></g>
<g transform="translate(719.4,170) scale(1.12,1)"><text x="0" y="0" font-family="Liberation Sans" font-weight="normal" font-size="12.6" fill="#111111" stroke="#111111" stroke-width="0.3">R<tspan font-size="8.568" dy="-4.6">2</tspan><tspan dy="4.6">=0.968</tspan></text></g>
<g transform="translate(720.6,193.8) scale(1.12,1)"><text x="0" y="0" font-family="Liberation Sans" font-weight="normal" font-size="12.6" fill="#f51515" stroke="#f51515" stroke-width="0.3">R<tspan font-size="8.568" dy="-4.6">2</tspan><tspan dy="4.6">=0.970</tspan></text></g>
<rect x="286.7" y="204.8" width="91.10" height="51.00" fill="#fff" stroke="#c4c4c4" stroke-width="1.2"/>
<rect x="301.60" y="212.00" width="4" height="4" fill="#0000ff"/>
<g transform="translate(322.7,217.8) scale(1.05,1)"><text x="0" y="0" font-family="Liberation Sans" font-weight="normal" font-size="12.8" fill="#222" stroke="#222" stroke-width="0.3">RH 70 %</text></g>
<rect x="301.60" y="228.10" width="4" height="4" fill="#000000"/>
<g transform="translate(322.7,233.9) scale(1.05,1)"><text x="0" y="0" font-family="Liberation Sans" font-weight="normal" font-size="12.8" fill="#222" stroke="#222" stroke-width="0.3">RH 50 %</text></g>
<rect x="301.60" y="244.50" width="4" height="4" fill="#ff0000"/>
<g transform="translate(322.7,250.3) scale(1.05,1)"><text x="0" y="0" font-family="Liberation Sans" font-weight="normal" font-size="12.8" fill="#222" stroke="#222" stroke-width="0.3">RH 30 %</text></g>
<rect x="681.7" y="206.5" width="94.30" height="49.30" fill="#fff" stroke="#c4c4c4" stroke-width="1.2"/>
<rect x="697.00" y="213.60" width="4" height="4" fill="#0000ff"/>
<g transform="translate(719.0,220.1) scale(1.1,1)"><text x="0" y="0" font-family="Liberation Sans" font-weight="normal" font-size="12.4" fill="#222" stroke="#222" stroke-width="0.3">RH 70 %</text></g>
<rect x="697.00" y="229.50" width="4" height="4" fill="#000000"/>
<g transform="translate(719.0,236.0) scale(1.1,1)"><text x="0" y="0" font-family="Liberation Sans" font-weight="normal" font-size="12.4" fill="#222" stroke="#222" stroke-width="0.3">RH 50 %</text></g>
<rect x="697.00" y="245.10" width="4" height="4" fill="#ff0000"/>
<g transform="translate(719.0,251.6) scale(1.1,1)"><text x="0" y="0" font-family="Liberation Sans" font-weight="normal" font-size="12.4" fill="#222" stroke="#222" stroke-width="0.3">RH 30 %</text></g>
</svg>
</div></body></html>
